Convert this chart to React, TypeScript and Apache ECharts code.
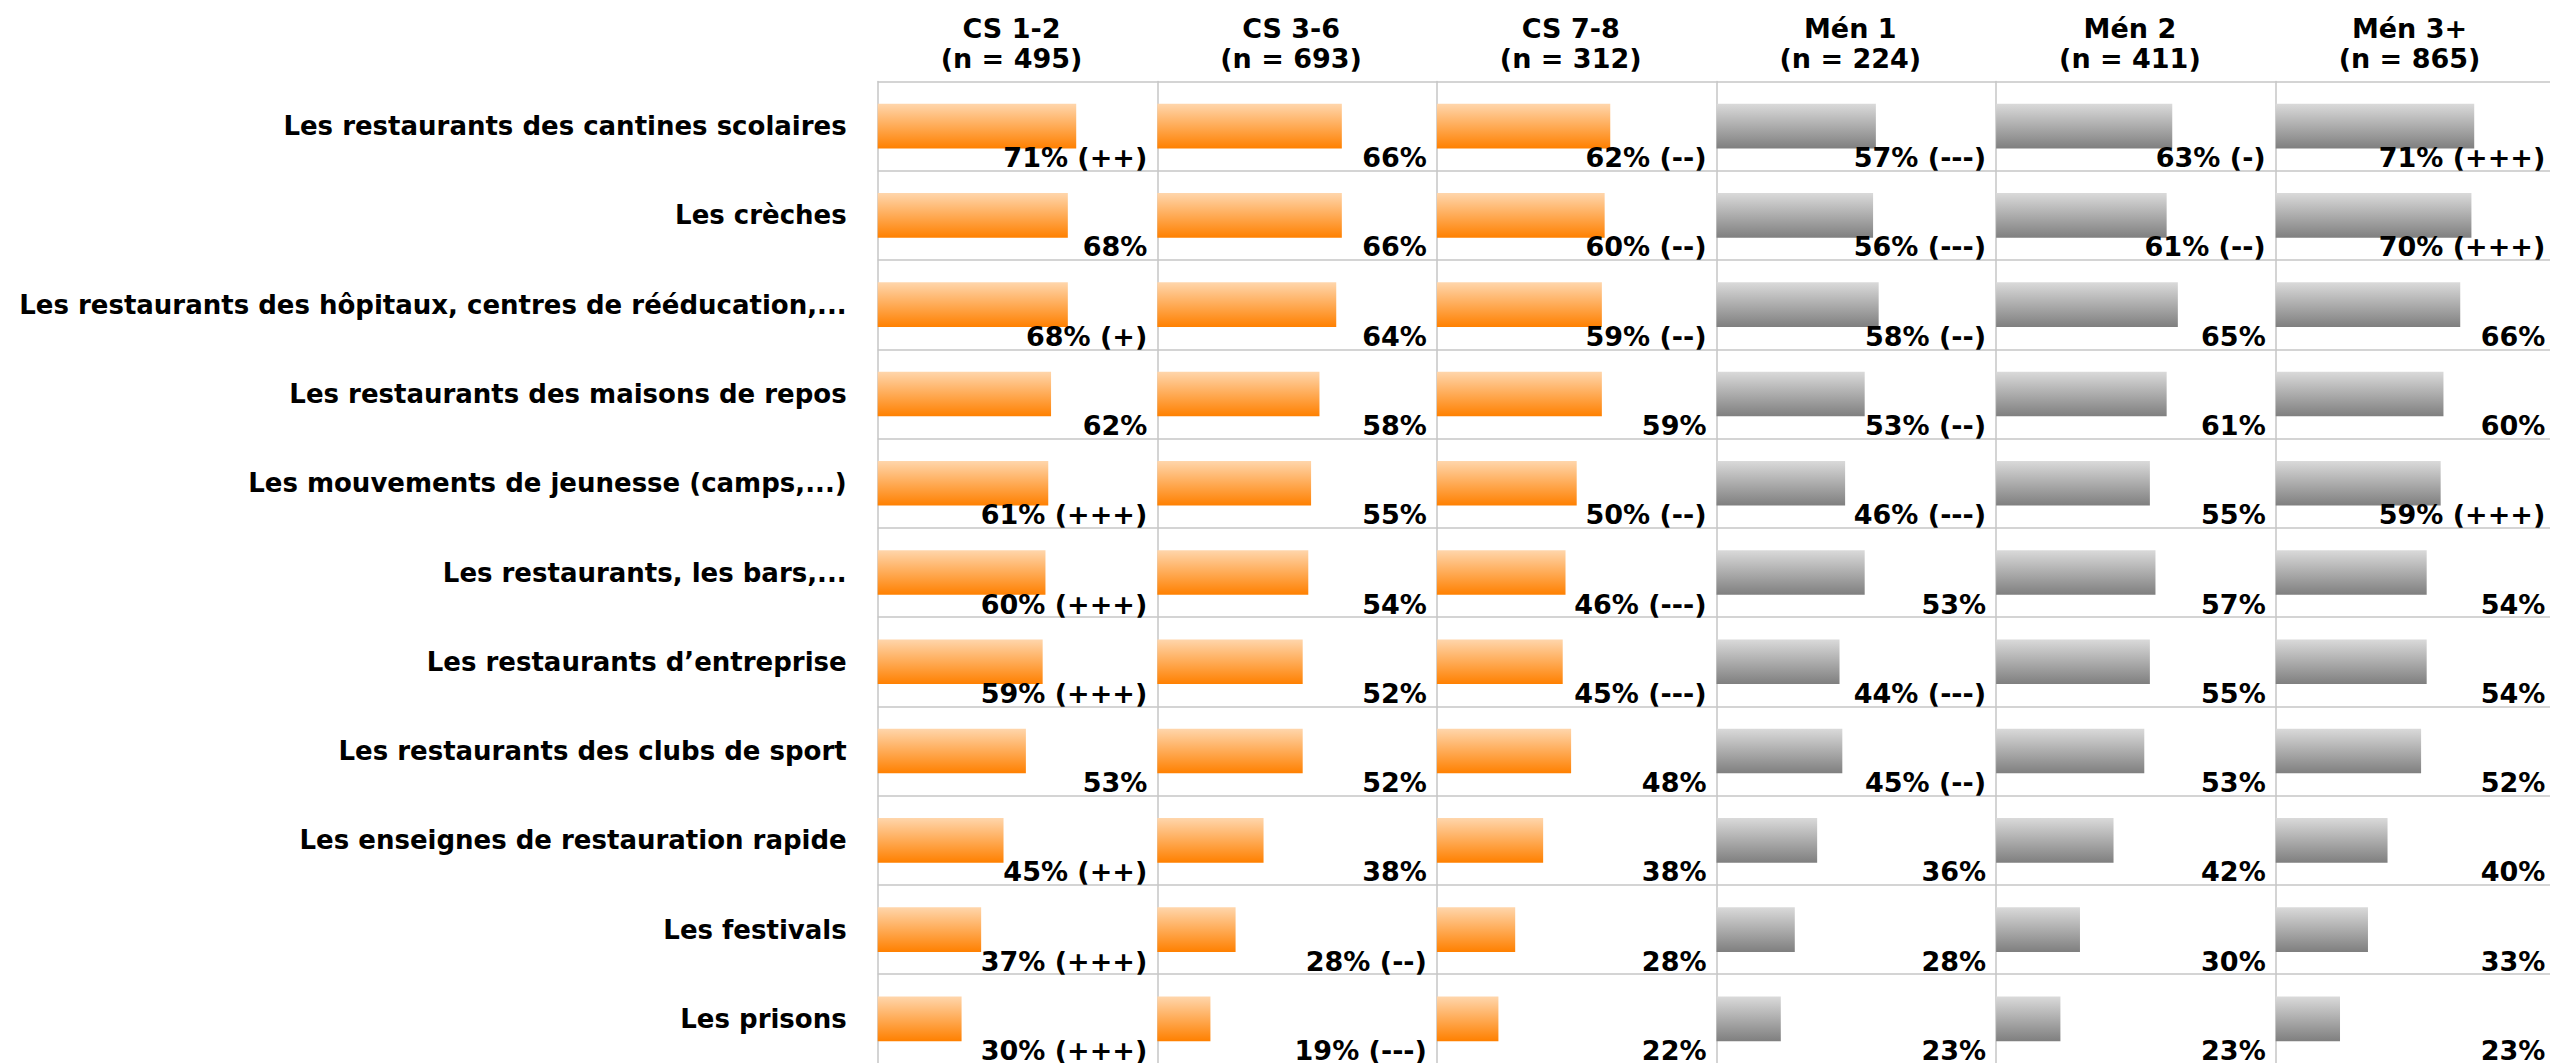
import React, { useEffect, useRef } from "react";
import * as echarts from "echarts";

const categories = [
  "Les restaurants des cantines scolaires",
  "Les crèches",
  "Les restaurants des hôpitaux, centres de rééducation,...",
  "Les restaurants des maisons de repos",
  "Les mouvements de jeunesse (camps,...)",
  "Les restaurants, les bars,...",
  "Les restaurants d’entreprise",
  "Les restaurants des clubs de sport",
  "Les enseignes de restauration rapide",
  "Les festivals",
  "Les prisons",
];

const groups = ["CS 1-2", "CS 3-6", "CS 7-8", "Mén 1", "Mén 2", "Mén 3+"];
const groupN = [495, 693, 312, 224, 411, 865];

const cs12 = [71, 68, 68, 62, 61, 60, 59, 53, 45, 37, 30];
const cs12Sig = ["++", "", "+", "", "+++", "+++", "+++", "", "++", "+++", "+++"];
const cs36 = [66, 66, 64, 58, 55, 54, 52, 52, 38, 28, 19];
const cs36Sig = ["", "", "", "", "", "", "", "", "", "--", "---"];
const cs78 = [62, 60, 59, 59, 50, 46, 45, 48, 38, 28, 22];
const cs78Sig = ["--", "--", "--", "", "--", "---", "---", "", "", "", ""];
const men1 = [57, 56, 58, 53, 46, 53, 44, 45, 36, 28, 23];
const men1Sig = ["---", "---", "--", "--", "---", "", "---", "--", "", "", ""];
const men2 = [63, 61, 65, 61, 55, 57, 55, 53, 42, 30, 23];
const men2Sig = ["-", "--", "", "", "", "", "", "", "", "", ""];
const men3 = [71, 70, 66, 60, 59, 54, 54, 52, 40, 33, 23];
const men3Sig = ["+++", "+++", "", "", "+++", "", "", "", "", "", ""];

const values = [cs12, cs36, cs78, men1, men2, men3];
const sigs = [cs12Sig, cs36Sig, cs78Sig, men1Sig, men2Sig, men3Sig];
const isOrange = [true, true, true, false, false, false];

const FONT = "DejaVu Sans";
const LINE = "#c6c6c6";
const GRID_LEFT = 877.7;
const PANEL_W = 279.6;
const GRID_TOP = 81.5;
const GRID_H = 982;

export default function App() {
  const ref = useRef<HTMLDivElement>(null);
  useEffect(() => {
    if (!ref.current) return;
    const chart = echarts.init(ref.current, undefined, { renderer: "svg" });
    const orange = new echarts.graphic.LinearGradient(0, 0, 0, 1, [
      { offset: 0, color: "#FFD6AC" },
      { offset: 1, color: "#FF8000" },
    ]);
    const gray = new echarts.graphic.LinearGradient(0, 0, 0, 1, [
      { offset: 0, color: "#DADADA" },
      { offset: 1, color: "#7F7F7F" },
    ]);
    const option: any = {
      animation: false,
      grid: groups.map((_, i) => ({
        left: GRID_LEFT + i * PANEL_W,
        top: GRID_TOP,
        width: PANEL_W,
        height: GRID_H,
        containLabel: false,
        outerBoundsMode: "none",
      })),
      xAxis: groups.map((g, i) => ({
        gridIndex: i,
        type: "value",
        min: 0,
        max: 100,
        position: "top",
        axisLine: { show: false },
        axisTick: { show: false },
        axisLabel: { show: false },
        splitLine: { show: false },
        name: `${g}\n(n = ${groupN[i]})`,
        nameLocation: "middle",
        nameGap: 8,
        nameTextStyle: {
          fontFamily: FONT,
          fontWeight: "bold",
          fontSize: 27,
          lineHeight: 30,
          color: "#000",
          padding: [0, 12, 0, 0],
        },
      })),
      yAxis: groups.map((_, i) => ({
        gridIndex: i,
        type: "category",
        data: categories,
        inverse: true,
        axisLine: { show: true, lineStyle: { color: LINE, width: 1.5 } },
        axisTick: { show: false },
        splitLine: { show: true, lineStyle: { color: LINE, width: 1.5 } },
        axisLabel:
          i === 0
            ? {
                show: true,
                fontFamily: FONT,
                fontWeight: "bold",
                fontSize: 26,
                color: "#000",
                margin: 31,
                padding: [0, 0, 5, 0],
              }
            : { show: false },
      })),
      series: [
        ...groups.map((g, i) => ({
          name: g,
          type: "bar",
          xAxisIndex: i,
          yAxisIndex: i,
          data: values[i],
          barWidth: "50%",
          silent: true,
          itemStyle: { color: isOrange[i] ? orange : gray },
        })),
        ...groups.map((g, i) => ({
          name: g + " labels",
          type: "scatter",
          xAxisIndex: i,
          yAxisIndex: i,
          data: values[i].map((_, j) => [100, j]),
          symbol: "rect",
          symbolSize: 1,
          silent: true,
          clip: false,
          z: 5,
          itemStyle: { color: "rgba(0,0,0,0)", opacity: 1 },
          label: {
            show: true,
            position: "inside",
            align: "right",
            verticalAlign: "middle",
            offset: [-10, 31.5],
            fontFamily: FONT,
            fontWeight: "bold",
            fontSize: 27,
            color: "#000",
            textBorderWidth: 0,
            formatter: (p: any) => {
              const v = values[i][p.dataIndex];
              const s = sigs[i][p.dataIndex];
              return s ? `${v}% (${s})` : `${v}%`;
            },
          },
        })),
      ],
    };
    chart.setOption(option);
    return () => chart.dispose();
  }, []);
  return (
    <div
      ref={ref}
      style={{ position: "fixed", left: 0, top: 0, width: 2550, height: 1063, background: "#fff" }}
    />
  );
}
